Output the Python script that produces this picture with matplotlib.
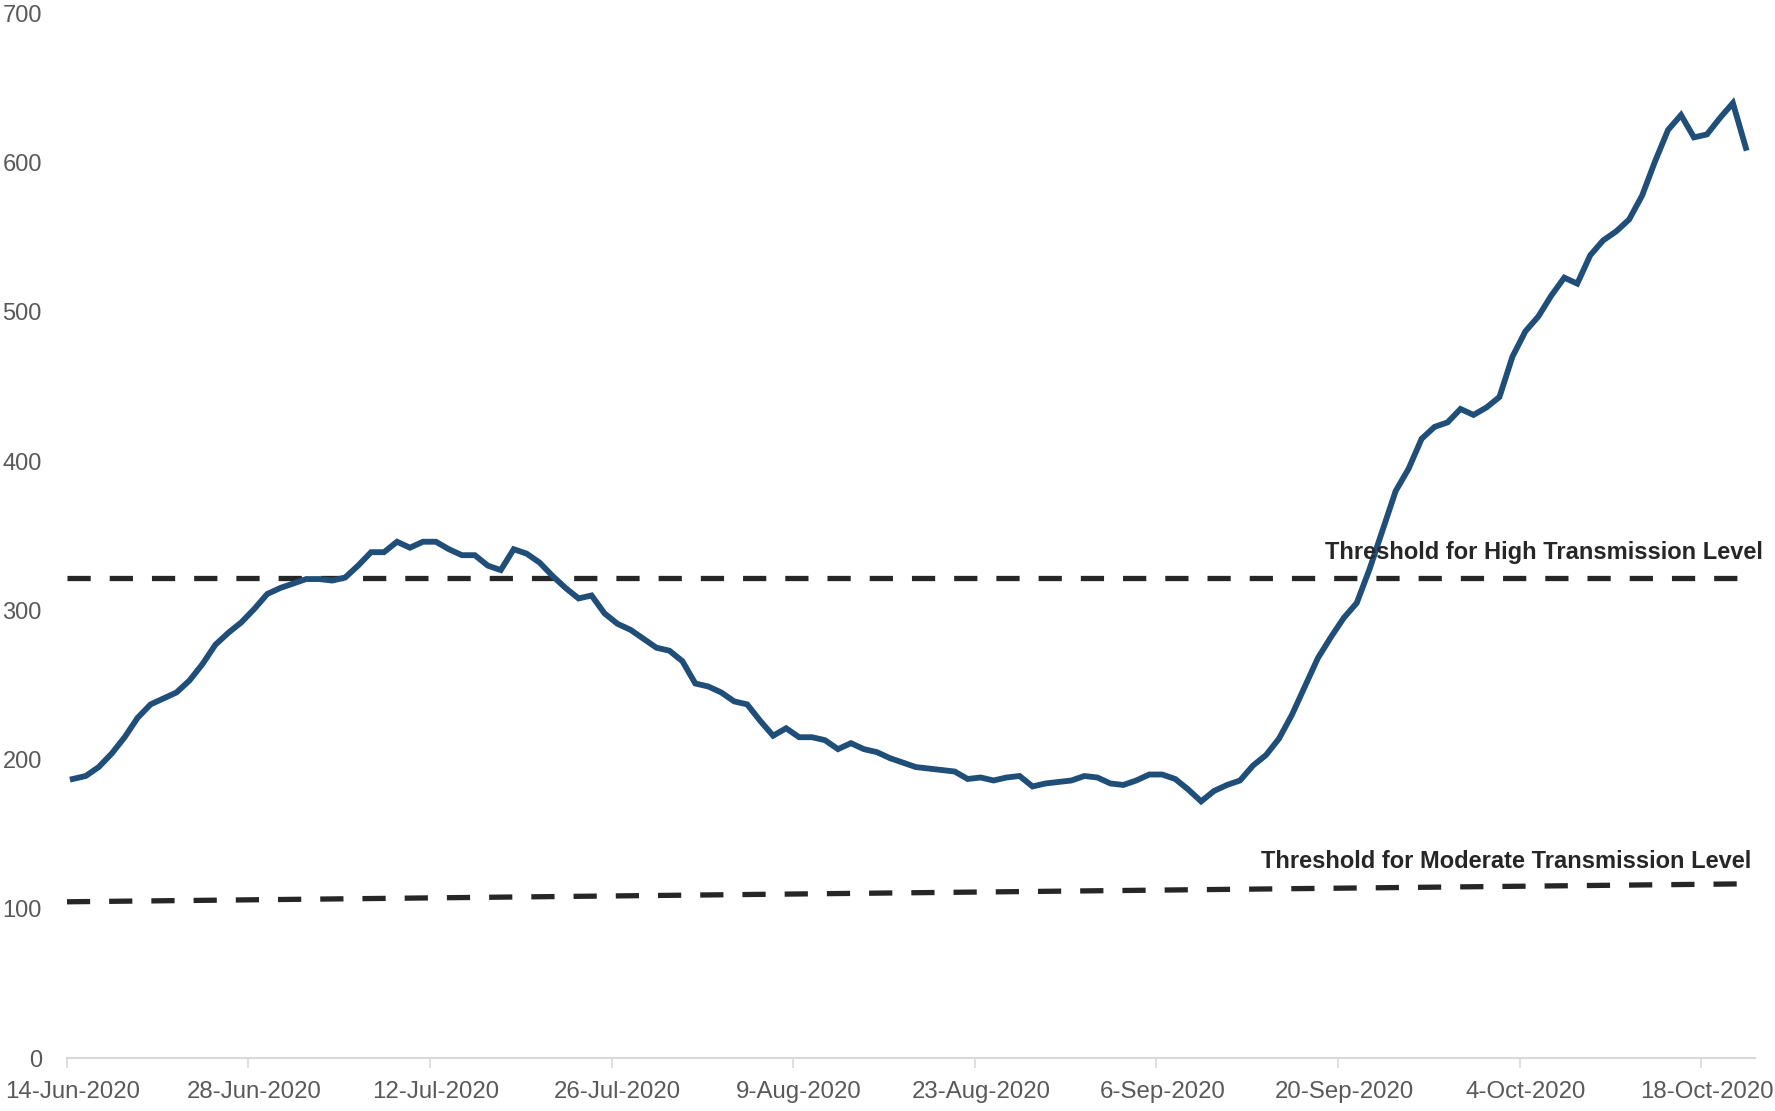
import numpy as np
import matplotlib.pyplot as plt
import matplotlib.transforms as mtransforms

plt.rcParams['font.family'] = ['Liberation Sans', 'DejaVu Sans']

# daily values from 14-Jun-2020 (day 0)
rate = [187, 189, 195, 204, 215, 228, 237, 241, 245, 253,
        264, 277, 285, 292, 301, 311, 315, 318, 321, 321,
        320, 322, 330, 339, 339, 346, 342, 346, 346, 341,
        337, 337, 330, 327, 341, 338, 332, 323, 315, 308,
        310, 298, 291, 287, 281, 275, 273, 266, 251, 249,
        245, 239, 237, 226, 216, 221, 215, 215, 213, 207,
        211, 207, 205, 201, 198, 195, 194, 193, 192, 187,
        188, 186, 188, 189, 182, 184, 185, 186, 189, 188,
        184, 183, 186, 190, 190, 187, 180, 172, 179, 183,
        186, 196, 203, 214, 230, 249, 268, 282, 295, 305,
        328, 354, 380, 395, 415, 423, 426, 435, 431, 436,
        443, 470, 487, 497, 511, 523, 519, 538, 548, 554,
        562, 578, 601, 622, 632, 617, 619, 630, 640, 610]

high_threshold = 321.5
moderate_start, moderate_end = 104.7, 116.8

tick_days = [0, 14, 28, 42, 56, 70, 84, 98, 112, 126]
tick_labels = ['14-Jun-2020', '28-Jun-2020', '12-Jul-2020', '26-Jul-2020',
               '9-Aug-2020', '23-Aug-2020', '6-Sep-2020', '20-Sep-2020',
               '4-Oct-2020', '18-Oct-2020']

days = np.arange(len(rate)) + 0.45
x_end = 130.15

fig = plt.figure(figsize=(17.75, 11.11), dpi=100)
ax = fig.add_axes([0.0377, 0.0477, 0.9510, 0.9401])

ax.plot([0, x_end], [high_threshold, high_threshold], color='#262626',
        lw=3.8, dashes=(4.4, 3.6), solid_capstyle='butt', zorder=2)
ax.plot([0, x_end], [moderate_start, moderate_end], color='#262626',
        lw=3.8, dashes=(4.4, 3.6), solid_capstyle='butt', zorder=2)
ax.plot(days, rate, color='#1F4E79', lw=4.2, solid_joinstyle='miter', zorder=3)

ax.text(130.8, 339, 'Threshold for High Transmission Level', ha='right', va='center',
        fontsize=17, fontweight='bold', color='#262626', clip_on=False)
ax.text(129.9, 132, 'Threshold for Moderate Transmission Level', ha='right', va='center',
        fontsize=17, fontweight='bold', color='#262626', clip_on=False)

ax.set_xlim(0, x_end)
ax.set_ylim(0, 700)
ax.set_yticks(range(0, 701, 100))
ax.set_xticks(tick_days)
ax.set_xticklabels(tick_labels)

for s in ['top', 'right', 'left']:
    ax.spines[s].set_visible(False)
ax.spines['bottom'].set_color('#d9d9d9')
ax.spines['bottom'].set_linewidth(1.5)
ax.tick_params(axis='y', length=0, pad=18, labelsize=17, labelcolor='#595959')
ax.tick_params(axis='x', length=7, width=1.2, color='#d9d9d9', pad=9.5,
               labelsize=17.3, labelcolor='#595959')
for lab in ax.get_yticklabels():
    lab.set_horizontalalignment('right')

# x labels sit slightly right of their ticks in the original
shift = mtransforms.ScaledTranslation(6 / 100, 0, fig.dpi_scale_trans)
for lab in ax.get_xticklabels():
    lab.set_transform(lab.get_transform() + shift)

fig.savefig('out.png', dpi=100)
